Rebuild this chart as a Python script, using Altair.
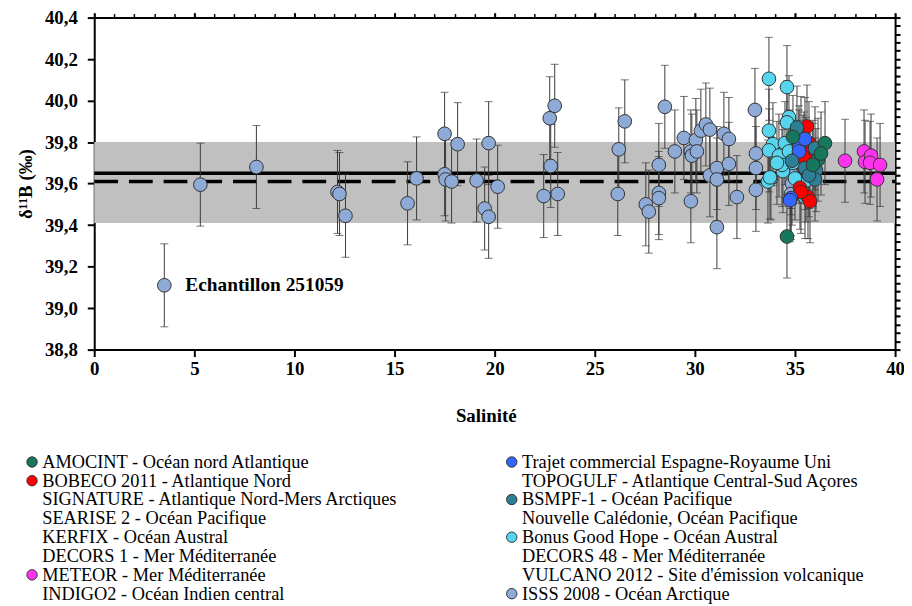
import altair as alt
import pandas as pd

# ---------------- data ----------------
LEFT_NAMES = ["AMOCINT - Océan nord Atlantique", "BOBECO 2011 - Atlantique Nord",
              "SIGNATURE - Atlantique Nord-Mers Arctiques", "SEARISE 2 - Océan Pacifique",
              "KERFIX - Océan Austral", "DECORS 1 - Mer Méditerranée",
              "METEOR - Mer Méditerranée", "INDIGO2 - Océan Indien central"]
RIGHT_NAMES = ["Trajet commercial Espagne-Royaume Uni", "TOPOGULF - Atlantique Central-Sud Açores",
               "BSMPF-1 - Océan Pacifique", "Nouvelle Calédonie, Océan Pacifique",
               "Bonus Good Hope - Océan Austral", "DECORS 48 - Mer Méditerranée",
               "VULCANO 2012 - Site d'émission volcanique", "ISSS 2008 - Océan Arctique"]
LEFT_COLORS = ["#17775c", "#ff0000", "transparent", "transparent", "transparent", "transparent",
               "#ff33ee", "transparent"]
RIGHT_COLORS = ["#3366ff", "transparent", "#2c7f96", "transparent", "#55d6ee", "transparent",
                "transparent", "#8eaad6"]

isss_x = [3.5, 5.3, 8.1, 12.15, 12.25, 12.55, 15.65, 16.1, 17.5, 17.5, 17.55, 17.85, 18.15, 19.1,
          19.5, 19.7, 19.7, 20.15, 22.45, 22.75, 23.0, 22.8, 23.15, 26.15, 26.2, 26.5, 28.5, 27.55,
          27.7, 28.2, 28.2, 28.2, 29.0, 29.45, 29.8, 29.85, 30.05, 30.1, 29.8, 30.3, 30.55, 30.75,
          30.75, 31.1, 31.1, 31.1, 31.45, 31.7, 31.7, 32.1, 33.0, 33.05, 33.05, 33.05, 33.8, 34.8,
          34.8, 34.8, 34.85, 34.8]
isss_y = [39.11, 39.595, 39.68, 39.56, 39.55, 39.445, 39.505, 39.625, 39.84, 39.645, 39.62, 39.61,
          39.79, 39.615, 39.48, 39.795, 39.44, 39.585, 39.54, 39.915, 39.975, 39.685, 39.55, 39.55,
          39.765, 39.9, 39.97, 39.5, 39.465, 39.69, 39.555, 39.53, 39.755, 39.82, 39.755, 39.735,
          39.81, 39.755, 39.515, 39.855, 39.885, 39.86, 39.64, 39.675, 39.62, 39.39, 39.84, 39.815,
          39.695, 39.535, 39.955, 39.745, 39.675, 39.57, 39.625, 39.71, 39.68, 39.65, 39.6, 39.55]
bgh_x = [33.7, 34.6, 34.7, 34.6, 33.7, 33.9, 33.7, 34.2, 34.5, 34.7, 34.4, 33.65, 33.75, 34.35,
         35.2, 35.55, 35.5, 35.0, 34.9, 34.1]
bgh_y = [40.105, 40.065, 39.92, 39.895, 39.855, 39.79, 39.76, 39.735, 39.795, 39.755, 39.66, 39.61,
         39.63, 39.69, 39.705, 39.615, 39.535, 39.625, 39.7, 39.7]
bob_x = [35.6, 35.7, 35.45, 35.55, 35.9, 35.7, 35.25, 35.65, 35.75, 35.4, 35.3]
bob_y = [39.875, 39.795, 39.745, 39.72, 39.705, 39.68, 39.58, 39.535, 39.515, 39.73, 39.56]
amo_x = [36.5, 34.6, 34.9, 36.15, 36.3, 35.9]
amo_y = [39.795, 39.345, 39.825, 39.715, 39.745, 39.69]
tra_x = [35.3, 35.2, 35.5, 35.2, 34.8, 34.75]
tra_y = [39.82, 39.775, 39.815, 39.755, 39.53, 39.52]
bsm_x = [35.1, 36.0, 36.05, 36.0, 35.5, 34.85, 35.7]
bsm_y = [39.87, 39.77, 39.665, 39.62, 39.675, 39.71, 39.64]
met_x = [37.5, 38.45, 38.5, 38.8, 38.75, 39.25, 39.1]
met_y = [39.71, 39.755, 39.705, 39.735, 39.7, 39.69, 39.62]
ERR = 0.2

BAND = [39.41, 39.80]
MEAN_SOLID = 39.65
MEAN_DASH = 39.61
X_RANGE = [0, 40]
Y_RANGE = [38.8, 40.4]
Y_TICKS = [38.8, 39.0, 39.2, 39.4, 39.6, 39.8, 40.0, 40.2, 40.4]
Y_MINOR = [round(38.8 + 0.04 * i, 2) for i in range(41)]
X_TICKS = [0, 5, 10, 15, 20, 25, 30, 35, 40]
X_MINOR = list(range(0, 41))
ANNOT = ["Echantillon 251059"]
ANNOT_X = [4.55]
ANNOT_Y = [39.11]

# ---------------- tables ----------------
order = LEFT_NAMES + RIGHT_NAMES
fill_range = LEFT_COLORS + RIGHT_COLORS
stroke_range = ["#333333" if c != "transparent" else "transparent" for c in fill_range]

series = [
    (RIGHT_NAMES[7], isss_x, isss_y),
    (RIGHT_NAMES[4], bgh_x, bgh_y),
    (LEFT_NAMES[1], bob_x, bob_y),
    (RIGHT_NAMES[0], tra_x, tra_y),
    (RIGHT_NAMES[2], bsm_x, bsm_y),
    (LEFT_NAMES[0], amo_x, amo_y),
    (LEFT_NAMES[6], met_x, met_y),
]
rows = []
for name, xs, ys in series:
    for x, y in zip(xs, ys):
        rows.append({"series": name, "sal": x, "d11b": y, "lo": y - ERR, "hi": y + ERR})
df = pd.DataFrame(rows)

band_df = pd.DataFrame({"x0": [X_RANGE[0]], "x1": [X_RANGE[1]], "lo": [BAND[0]], "hi": [BAND[1]]})
solid_df = pd.DataFrame({"x0": [X_RANGE[0]], "x1": [X_RANGE[1]], "y": [MEAN_SOLID]})
dash_df = pd.DataFrame({"x0": [X_RANGE[0]], "x1": [X_RANGE[1]], "y": [MEAN_DASH]})
annot_df = pd.DataFrame({"x": ANNOT_X, "y": ANNOT_Y, "t": ANNOT})

FONT = "Liberation Serif"
FS = 19
xs_ = alt.Scale(domain=X_RANGE, nice=False, zero=False)
ys_ = alt.Scale(domain=Y_RANGE, nice=False, zero=False)
comma = "replace(format(datum.value, '.1f'), '.', ',')"

x_main = alt.Axis(values=X_TICKS, grid=False, labelFont=FONT, labelFontSize=FS, labelFontWeight="bold",
                  labelColor="black", tickColor="black", tickWidth=2, tickSize=7, domainColor="black",
                  domainWidth=2, labelPadding=3, title="Salinité", titleFont=FONT, titleFontSize=FS,
                  titleFontWeight="bold", titleColor="black", titlePadding=29, titleX=395,
                  titleAlign="center", labelFlush=False)
y_main = alt.Axis(values=Y_TICKS, grid=False, labelFont=FONT, labelFontSize=FS, labelFontWeight="bold",
                  labelColor="black", tickColor="black", tickWidth=2, tickSize=7, domainColor="black",
                  domainWidth=2, labelPadding=10, labelExpr=comma, title="δ¹¹B (‰)", titleFont=FONT,
                  titleFontSize=FS, titleFontWeight="bold", titleColor="black", titlePadding=9,
                  labelFlush=False)
x_minor = alt.Axis(values=X_MINOR, grid=False, labels=False, domain=False, tickColor="black",
                   tickWidth=1.5, tickSize=4, title=None)
y_minor = alt.Axis(values=Y_MINOR, grid=False, labels=False, domain=False, tickColor="black",
                   tickWidth=1.5, tickSize=4, title=None)
x_top = alt.Axis(orient="top", values=X_TICKS, grid=False, labels=False, tickColor="black", tickWidth=2,
                 tickSize=5, domainColor="black", domainWidth=2, title=None)
y_right = alt.Axis(orient="right", values=Y_MINOR, grid=False, labels=False, tickColor="black",
                   tickWidth=2, tickSize=5, domainColor="black", domainWidth=2, title=None)

band = alt.Chart(band_df).mark_rect(color="#c0c0c0").encode(
    x=alt.X("x0:Q", scale=xs_, axis=x_main), x2="x1:Q",
    y=alt.Y("lo:Q", scale=ys_, axis=y_main), y2="hi:Q")
solid = alt.Chart(solid_df).mark_rule(color="black", strokeWidth=3.5).encode(
    x=alt.X("x0:Q", scale=xs_, axis=x_minor), x2="x1:Q",
    y=alt.Y("y:Q", scale=ys_, axis=y_minor))
dash = alt.Chart(dash_df).mark_rule(color="black", strokeWidth=3.5, strokeDash=[24, 11]).encode(
    x=alt.X("x0:Q", scale=xs_, axis=x_top), x2="x1:Q",
    y=alt.Y("y:Q", scale=ys_, axis=y_right))
bars = alt.Chart(df).mark_rule(color="#3a3a3a", strokeWidth=1).encode(
    x=alt.X("sal:Q", scale=xs_, axis=None),
    y=alt.Y("lo:Q", scale=ys_, axis=None), y2="hi:Q")
cap_lo = alt.Chart(df).mark_tick(color="#3a3a3a", orient="horizontal", size=8, thickness=1).encode(
    x=alt.X("sal:Q", scale=xs_, axis=None), y=alt.Y("lo:Q", scale=ys_, axis=None))
cap_hi = alt.Chart(df).mark_tick(color="#3a3a3a", orient="horizontal", size=8, thickness=1).encode(
    x=alt.X("sal:Q", scale=xs_, axis=None), y=alt.Y("hi:Q", scale=ys_, axis=None))

leg = alt.Legend(title=None, orient="none", legendX=-72, legendY=439, columns=2, columnPadding=104,
                 rowPadding=0, labelFont=FONT, labelFontSize=18.5, labelColor="black", labelLimit=700,
                 symbolType="circle", symbolSize=110, symbolStrokeWidth=1, labelOffset=1, padding=0)
points = alt.Chart(df).mark_point(shape="circle", filled=True, size=190, strokeWidth=1, opacity=1).encode(
    x=alt.X("sal:Q", scale=xs_, axis=None),
    y=alt.Y("d11b:Q", scale=ys_, axis=None),
    fill=alt.Fill("series:N", scale=alt.Scale(domain=order, range=fill_range), legend=leg),
    stroke=alt.Stroke("series:N", scale=alt.Scale(domain=order, range=stroke_range), legend=leg))
annot = alt.Chart(annot_df).mark_text(align="left", baseline="middle", font=FONT, fontSize=19.5,
                                      fontWeight="bold", color="black").encode(
    x=alt.X("x:Q", scale=xs_, axis=None), y=alt.Y("y:Q", scale=ys_, axis=None), text="t:N")

chart = alt.layer(band, solid, dash, bars, cap_lo, cap_hi, points, annot).resolve_axis(
    x="independent", y="independent").properties(
    width=808, height=335,
    padding={"left": 87, "top": 7, "right": 9, "bottom": 256},
    autosize=alt.AutoSizeParams(type="none"),
).configure_view(stroke=None).configure(background="white", font=FONT).configure_axis(
    labelFont=FONT, titleFont=FONT).configure_legend(labelFont=FONT).configure_text(font=FONT)

chart.save("out.html", embed_options={"renderer": "svg", "actions": False})
